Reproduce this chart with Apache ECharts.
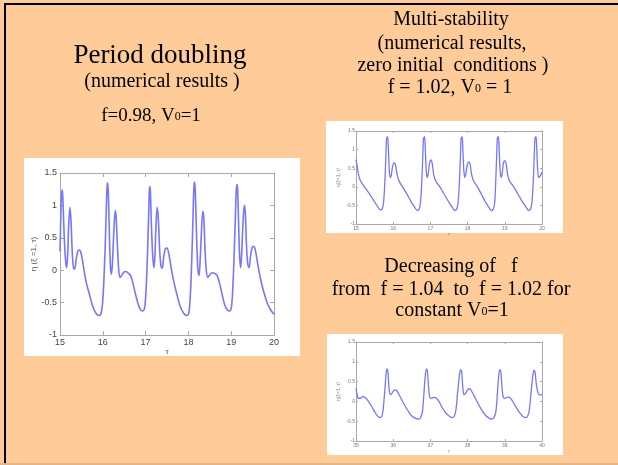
<!DOCTYPE html>
<html>
<head>
<meta charset="utf-8">
<script src="https://cdn.jsdelivr.net/npm/echarts@6/dist/echarts.min.js"></script>
<style>
  html, body { margin: 0; padding: 0; background: #FFCC99; }
  #c { width: 618px; height: 465px; }
</style>
</head>
<body>
<div id="c"></div>
<script>
// η(ξ=1, τ) for f = 0.98, V0 = 1  (period doubling), τ from 15 to 20
const periodDoubling = [
  [15.0,0.29],[15.016,0.75],[15.031,1.11],[15.055,1.24],[15.07,1.06],[15.10,0.49],[15.133,0.13],
  [15.156,0.04],[15.18,0.24],[15.203,0.70],[15.234,0.97],[15.258,0.75],[15.289,0.24],[15.32,0.02],
  [15.35,0.03],[15.383,0.19],[15.42,0.30],[15.46,0.31],[15.5,0.24],[15.547,0.06],[15.61,-0.18],
  [15.69,-0.38],[15.766,-0.56],[15.84,-0.665],[15.906,-0.70],[15.953,-0.68],[15.99,-0.54],
  [16.02,-0.23],[16.055,0.34],[16.08,0.91],[16.10,1.29],[16.117,1.35],[16.133,1.11],[16.156,0.49],
  [16.18,0.03],[16.203,-0.06],[16.227,0.13],[16.258,0.60],[16.29,0.92],[16.31,0.83],[16.344,0.34],
  [16.375,-0.02],[16.406,-0.11],[16.445,-0.08],[16.49,-0.03],[16.547,-0.02],[16.6,-0.05],
  [16.65,-0.08],[16.703,-0.20],[16.76,-0.36],[16.82,-0.51],[16.875,-0.60],[16.92,-0.63],
  [16.97,-0.60],[17.0,-0.43],[17.03,-0.02],[17.055,0.49],[17.08,1.06],[17.094,1.29],[17.11,1.24],
  [17.133,0.75],[17.164,0.24],[17.195,0.04],[17.22,0.24],[17.24,0.65],[17.27,0.97],[17.297,0.80],
  [17.33,0.29],[17.36,0.06],[17.39,0.03],[17.42,0.19],[17.46,0.33],[17.5,0.34],[17.54,0.26],
  [17.586,0.08],[17.65,-0.15],[17.73,-0.37],[17.81,-0.56],[17.89,-0.665],[17.953,-0.70],
  [18.0,-0.68],[18.03,-0.54],[18.06,-0.18],[18.094,0.49],[18.117,1.06],[18.133,1.32],[18.148,1.36],
  [18.164,1.16],[18.19,0.55],[18.22,0.03],[18.25,-0.08],[18.273,0.13],[18.305,0.60],[18.336,0.91],
  [18.36,0.81],[18.39,0.29],[18.42,-0.02],[18.453,-0.11],[18.5,-0.07],[18.555,-0.04],[18.617,-0.05],
  [18.67,-0.08],[18.727,-0.20],[18.79,-0.38],[18.85,-0.54],[18.906,-0.61],[18.96,-0.63],[19.0,-0.59],
  [19.03,-0.38],[19.06,0.08],[19.094,0.75],[19.117,1.22],[19.133,1.32],[19.148,1.27],[19.17,0.80],
  [19.195,0.24],[19.22,0.04],[19.24,0.19],[19.27,0.65],[19.305,1.0],[19.33,0.88],[19.36,0.34],
  [19.39,0.08],[19.42,0.04],[19.45,0.21],[19.49,0.35],[19.53,0.37],[19.57,0.29],[19.617,0.11],
  [19.68,-0.12],[19.758,-0.33],[19.844,-0.51],[19.92,-0.61],[20.0,-0.68]
];

// η(ξ=1, τ) for f = 1.02, V0 = 1, zero initial conditions, τ from 15 to 20
const multiStability = [
  [15.0,0.73],[15.027,0.58],[15.063,0.36],[15.107,0.19],[15.197,0.04],[15.33,-0.14],[15.465,-0.35],
  [15.58,-0.53],[15.653,-0.62],[15.707,-0.59],[15.742,-0.41],[15.778,0.18],[15.805,0.90],
  [15.823,1.30],[15.85,1.35],[15.868,1.08],[15.894,0.45],[15.92,0.25],[15.948,0.31],[15.984,0.55],
  [16.03,0.65],[16.064,0.58],[16.1,0.36],[16.145,0.18],[16.243,0.01],[16.36,-0.18],[16.476,-0.39],
  [16.583,-0.56],[16.646,-0.64],[16.7,-0.59],[16.735,-0.41],[16.77,0.18],[16.798,0.90],[16.816,1.30],
  [16.843,1.35],[16.86,1.08],[16.887,0.45],[16.914,0.25],[16.94,0.34],[16.977,0.63],[17.013,0.72],
  [17.048,0.63],[17.093,0.31],[17.147,0.15],[17.254,0.0],[17.37,-0.20],[17.496,-0.41],[17.594,-0.56],
  [17.657,-0.64],[17.71,-0.59],[17.746,-0.41],[17.782,0.18],[17.81,0.90],[17.826,1.30],[17.853,1.35],
  [17.87,1.08],[17.898,0.45],[17.925,0.25],[17.95,0.34],[17.996,0.60],[18.032,0.67],[18.068,0.60],
  [18.113,0.31],[18.166,0.15],[18.265,0.0],[18.372,-0.20],[18.48,-0.41],[18.578,-0.56],[18.64,-0.64],
  [18.694,-0.59],[18.73,-0.41],[18.757,0.18],[18.784,0.90],[18.8,1.30],[18.828,1.35],[18.846,1.08],
  [18.873,0.45],[18.9,0.25],[18.927,0.34],[18.962,0.63],[18.998,0.70],[19.034,0.63],[19.08,0.31],
  [19.132,0.15],[19.24,0.0],[19.356,-0.20],[19.48,-0.41],[19.58,-0.56],[19.642,-0.64],[19.696,-0.59],
  [19.73,-0.41],[19.767,0.18],[19.794,0.90],[19.812,1.30],[19.839,1.35],[19.857,1.08],[19.884,0.45],
  [19.91,0.25],[19.946,0.28],[20.0,0.40]
];

// η(ξ=1, τ) while f decreases from 1.04 to 1.02, V0 = 1, τ from 35 to 40
const decreasingF = [
  [35.0,0.33],[35.027,0.19],[35.063,0.08],[35.116,0.08],[35.18,0.12],[35.25,0.10],[35.32,0.02],
  [35.41,-0.11],[35.5,-0.26],[35.58,-0.37],[35.643,-0.41],[35.696,-0.37],[35.73,-0.21],[35.768,0.21],
  [35.804,0.63],[35.83,0.82],[35.857,0.76],[35.884,0.38],[35.92,0.17],[35.955,0.19],[36.01,0.27],
  [36.07,0.29],[36.125,0.23],[36.196,0.10],[36.286,-0.06],[36.393,-0.23],[36.5,-0.37],[36.607,-0.43],
  [36.68,-0.45],[36.74,-0.40],[36.786,-0.26],[36.82,0.12],[36.857,0.59],[36.893,0.82],[36.92,0.76],
  [36.946,0.42],[36.98,0.12],[37.027,0.07],[37.09,0.10],[37.16,0.08],[37.23,0.0],[37.32,-0.16],
  [37.42,-0.30],[37.52,-0.38],[37.59,-0.41],[37.643,-0.37],[37.687,-0.21],[37.73,0.21],[37.777,0.63],
  [37.81,0.80],[37.84,0.76],[37.866,0.42],[37.9,0.17],[37.937,0.19],[38.0,0.29],[38.06,0.32],
  [38.125,0.23],[38.196,0.10],[38.286,-0.06],[38.393,-0.24],[38.5,-0.37],[38.59,-0.43],[38.652,-0.45],
  [38.714,-0.40],[38.76,-0.26],[38.795,0.12],[38.83,0.59],[38.866,0.80],[38.893,0.76],[38.92,0.42],
  [38.955,0.12],[39.0,0.07],[39.063,0.11],[39.134,0.10],[39.205,0.01],[39.295,-0.13],[39.393,-0.28],
  [39.49,-0.38],[39.563,-0.41],[39.616,-0.37],[39.66,-0.21],[39.705,0.21],[39.75,0.63],[39.786,0.79],
  [39.813,0.74],[39.85,0.42],[39.893,0.21],[39.946,0.16],[40.0,0.17]
];

// axis ranges
const tauRangeA = [15, 20];
const tauRangeB = [35, 40];
const etaRange = [-1, 1.5];

const SERIF = "'Liberation Serif', 'Times New Roman', serif";
const SANS = "'Liberation Sans', Arial, sans-serif";
const LINE_BLUE = '#7676ff';
const BOX = '#a8a8a8';

// plot areas (pixels)
const grids = [
  { left: 60, top: 173, width: 214, height: 162 },
  { left: 356, top: 131, width: 186, height: 93 },
  { left: 356, top: 342, width: 186, height: 99 }
];

function xAxes(gi, range, big) {
  const common = {
    gridIndex: gi, type: 'value', min: range[0], max: range[1], interval: 1,
    splitLine: { show: false },
    axisLine: { show: true, onZero: false, lineStyle: { color: BOX, width: 1 } },
    axisTick: { show: true, inside: true, length: big ? 4 : 2, lineStyle: { color: BOX } }
  };
  return [
    Object.assign({}, common, {
      position: 'bottom',
      axisLabel: { color: big ? '#444' : '#777', fontSize: big ? 9 : 5, fontFamily: SANS, margin: big ? 3 : 2 },
      name: 'τ', nameLocation: 'middle', nameGap: big ? 13 : 7,
      nameTextStyle: { color: big ? '#555' : '#888', fontSize: big ? 8 : 5, fontFamily: SANS }
    }),
    Object.assign({}, common, { position: 'top', axisLabel: { show: false } })
  ];
}

function yAxes(gi, big) {
  const common = {
    gridIndex: gi, type: 'value', min: etaRange[0], max: etaRange[1], interval: 0.5,
    splitLine: { show: false },
    axisLine: { show: true, onZero: false, lineStyle: { color: BOX, width: 1 } },
    axisTick: { show: true, inside: true, length: big ? 4 : 2, lineStyle: { color: BOX } }
  };
  return [
    Object.assign({}, common, {
      position: 'left',
      axisLabel: { color: big ? '#444' : '#777', fontSize: big ? 9 : 5, fontFamily: SANS, margin: big ? 3 : 1 },
      name: big ? 'η (ξ =1, τ)' : 'η(ξ=1, τ)', nameLocation: 'middle', nameRotate: 90,
      nameGap: big ? 19 : 15,
      nameTextStyle: { color: big ? '#555' : '#888', fontSize: big ? 8 : 5, fontFamily: SANS }
    }),
    Object.assign({}, common, { position: 'right', axisLabel: { show: false } })
  ];
}

function curve(data, idx, width) {
  return {
    type: 'line', data: data, xAxisIndex: idx * 2, yAxisIndex: idx * 2,
    showSymbol: false, smooth: 0.3, clip: true,
    lineStyle: { color: LINE_BLUE, width: width }, emphasis: { disabled: true }
  };
}

function label(text, x, y, size) {
  return {
    type: 'text', x: x, y: y, z: 10,
    style: {
      text: text, align: 'center', verticalAlign: 'middle',
      font: size + 'px ' + SERIF, fill: '#000',
      rich: {
        t: { fontSize: size, fontFamily: SERIF, fill: '#000', verticalAlign: 'bottom' },
        s: { fontSize: Math.round(size * 0.62), fontFamily: SERIF, fill: '#000',
             verticalAlign: 'bottom', padding: [0, 0, 3, 0] }
      }
    }
  };
}

const chart = echarts.init(document.getElementById('c'), null, { renderer: 'canvas' });
chart.setOption({
  backgroundColor: '#FFCC99',
  animation: false,
  grid: grids.map(g => Object.assign({ show: false, containLabel: false }, g)),
  xAxis: [].concat(xAxes(0, tauRangeA, true), xAxes(1, tauRangeA, false), xAxes(2, tauRangeB, false)),
  yAxis: [].concat(yAxes(0, true), yAxes(1, false), yAxes(2, false)),
  series: [
    curve(periodDoubling, 0, 1.6),
    curve(multiStability, 1, 1.3),
    curve(decreasingF, 2, 1.3)
  ],
  graphic: [
    // slide frame
    { type: 'rect', z: -20, shape: { x: 4, y: 3, width: 614, height: 2 }, style: { fill: '#000' } },
    { type: 'rect', z: -20, shape: { x: 4, y: 3, width: 2, height: 460 }, style: { fill: '#000' } },
    { type: 'rect', z: -20, shape: { x: 0, y: 463, width: 618, height: 2 }, style: { fill: '#E4B486' } },
    // white panels behind the plots
    { type: 'rect', z: -10, shape: { x: 24, y: 158, width: 276, height: 198 }, style: { fill: '#fff' } },
    { type: 'rect', z: -10, shape: { x: 326, y: 121, width: 237, height: 112 }, style: { fill: '#fff' } },
    { type: 'rect', z: -10, shape: { x: 327, y: 334, width: 236, height: 121 }, style: { fill: '#fff' } },
    // left heading
    label('Period doubling', 160, 56, 27),
    label('(numerical results )', 162, 82, 20),
    label('{t|f=0.98, V}{s|0}{t|=1}', 151, 116, 19),
    // upper right heading
    label('Multi-stability', 451, 20, 20),
    label('(numerical results,', 452, 44, 20),
    label('zero initial  conditions )', 453, 66, 20),
    label('{t|f = 1.02, V}{s|0}{t| = 1}', 450, 88, 20),
    // lower right heading
    label('Decreasing of   f', 451, 267, 20),
    label('from  f = 1.04  to  f = 1.02 for', 451, 290, 20),
    label('{t|constant V}{s|0}{t|=1}', 452, 311, 20)
  ]
});
</script>
</body>
</html>
